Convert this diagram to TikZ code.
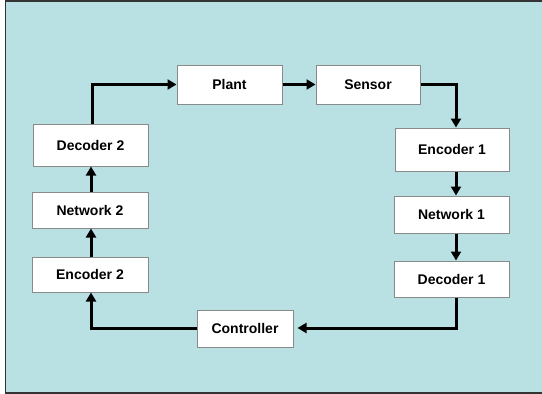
\documentclass[tikz,border=0pt]{standalone}
\usepackage{fontspec}
\setmainfont{Liberation Sans}
\usetikzlibrary{arrows.meta}
\definecolor{bgblue}{HTML}{B9E0E3}
\definecolor{boxline}{HTML}{8A8A8A}
\definecolor{frameline}{HTML}{333333}
\begin{document}
\begin{tikzpicture}[x=1pt,y=-1pt,
  blk/.style={draw=boxline,line width=1pt,fill=white,inner sep=0pt,font=\fontsize{14}{16}\selectfont\bfseries},
  conn/.style={line width=3pt,-{Triangle[length=9pt,width=10pt]}}]
\useasboundingbox (0,0) rectangle (542,394);
\fill[white] (0,0) rectangle (542,394);
\fill[bgblue] (5.5,1) rectangle (542,393);
\draw[frameline,line width=1.6pt] (542,1) -- (5.5,1) -- (5.5,393) -- (542,393);
% boxes
\node[blk,minimum width=105pt,minimum height=39pt] (plant) at (229.5,84.5) {Plant};
\node[blk,minimum width=104pt,minimum height=39pt] (sensor) at (368,84.5) {Sensor};
\node[blk,minimum width=114pt,minimum height=43pt] (enc1) at (452,149.5) {Encoder 1};
\node[blk,minimum width=115pt,minimum height=37pt] (net1) at (451.5,214.5) {Network 1};
\node[blk,minimum width=115pt,minimum height=36pt] (dec1) at (451.5,279) {Decoder 1};
\node[blk,minimum width=96pt,minimum height=37pt] (ctrl) at (245,328.5) {Controller};
\node[blk,minimum width=116pt,minimum height=35pt] (enc2) at (90,274.5) {Encoder 2};
\node[blk,minimum width=116pt,minimum height=36pt] (net2) at (90,210) {Network 2};
\node[blk,minimum width=115pt,minimum height=42pt] (dec2) at (90.5,145) {Decoder 2};
\coordinate (c1) at (456,84.5);
\coordinate (c2) at (456,328);
\coordinate (c3) at (91,328);
\coordinate (c4) at (92,84.5);
% connectors
\draw[conn] (plant.east) -- (sensor.west);
\draw[conn] (sensor.east) -- (c1) -- (c1 |- enc1.north);
\draw[conn] (enc1.south -| c1) -- (net1.north -| c1);
\draw[conn] (net1.south -| c1) -- (dec1.north -| c1);
\draw[conn] (dec1.south -| c2) -- (c2) -- ([xshift=4pt]ctrl.east |- c2);
\draw[conn] (ctrl.west |- c3) -- (c3) -- (enc2.south -| c3);
\draw[conn] (enc2.north -| c3) -- (net2.south -| c3);
\draw[conn] (net2.north -| c3) -- (dec2.south -| c3);
\draw[conn] (dec2.north -| c4) -- (c4) -- (plant.west);
\end{tikzpicture}
\end{document}
